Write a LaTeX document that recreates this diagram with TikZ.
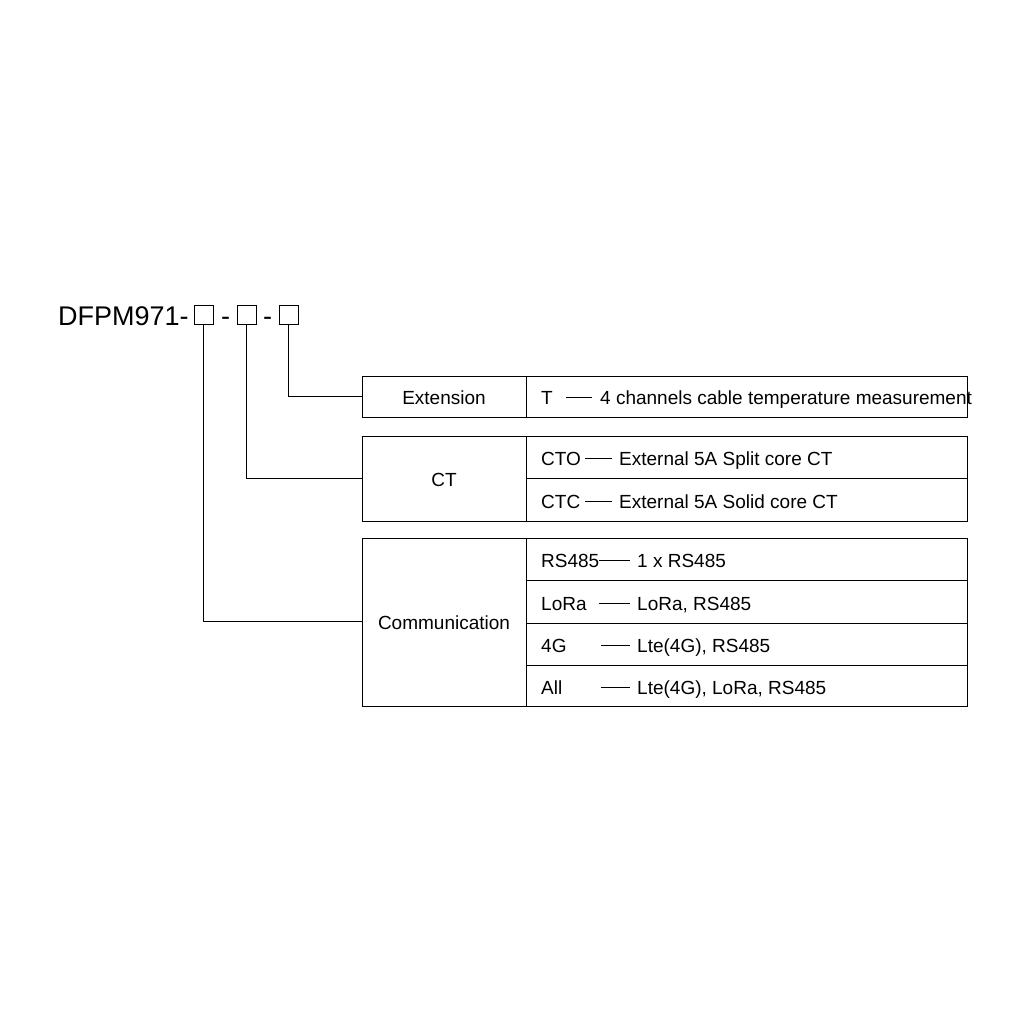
\documentclass[tikz,border=0pt]{standalone}
\usepackage{fontspec}
\setmainfont{Liberation Sans}
\begin{document}
\begin{tikzpicture}[x=1pt,y=-1pt,
  box/.style={draw,line width=1pt},
  ln/.style={line width=1pt},
  txt/.style={font=\fontsize{19}{22}\selectfont,anchor=base west,inner sep=0pt},
  ctxt/.style={font=\fontsize{19}{22}\selectfont,anchor=base,inner sep=0pt}]
\useasboundingbox (0,0) rectangle (1024,1024);
\node[txt,font=\fontsize{27}{30}\selectfont] (title) at (58,325) {DFPM971-};
\node[txt,font=\fontsize{27}{30}\selectfont] (d1) at (221,325) {-};
\node[txt,font=\fontsize{27}{30}\selectfont] (d2) at (263,325) {-};
\draw[ln] (194,305) rectangle (213,324) coordinate (s1);
\draw[ln] (237,305) rectangle (256,324);
\draw[ln] (279,305) rectangle (298,324);
\coordinate (a1) at (203.5,324); \coordinate (a2) at (246.5,324); \coordinate (a3) at (288.5,324);
% boxes
\draw[box] (362,376) rectangle (526,417); \draw[box] (526,376) rectangle (967,417);
\draw[box] (362,436) rectangle (526,521); \draw[box] (526,436) rectangle (967,521);
\draw[ln] (526,478) -- (967,478);
\draw[box] (362,538) rectangle (526,706); \draw[box] (526,538) rectangle (967,706);
\draw[ln] (526,580) -- (967,580); \draw[ln] (526,623) -- (967,623); \draw[ln] (526,665) -- (967,665);
\coordinate (e) at (362,396.5); \coordinate (c) at (362,478.5); \coordinate (m) at (362,621);
\draw[ln] (a3) |- (e);
\draw[ln] (a2) |- (c);
\draw[ln] (a1) |- (m);
\node[ctxt] (ext) at (444,404) {Extension};
\node[ctxt] (ct) at (444,486) {CT};
\node[ctxt] (com) at (444,629) {Communication};
% rows
\node[txt] (r1) at (541,404) {T}; \draw[ln] (566,397) -- (592,397);
\node[txt] (r1b) at (600,404) {4 channels cable temperature measurement};
\node[txt] (r2) at (541,465) {CTO}; \draw[ln] (585,458) -- (612,458);
\node[txt] (r2b) at (619,465) {External 5A Split core CT};
\node[txt] (r3) at (541,508) {CTC}; \draw[ln] (585,501) -- (612,501);
\node[txt] (r3b) at (619,508) {External 5A Solid core CT};
\node[txt] (r4) at (541,567) {RS485}; \draw[ln] (599,560) -- (630,560);
\node[txt] (r4b) at (637,567) {1 x RS485};
\node[txt] (r5) at (541,610) {LoRa}; \draw[ln] (599,603) -- (630,603);
\node[txt] (r5b) at (637,610) {LoRa, RS485};
\node[txt] (r6) at (541,652) {4G}; \draw[ln] (601,645) -- (630,645);
\node[txt] (r6b) at (637,652) {Lte(4G), RS485};
\node[txt] (r7) at (541,694) {All}; \draw[ln] (601,687) -- (630,687);
\node[txt] (r7b) at (637,694) {Lte(4G), LoRa, RS485};
\end{tikzpicture}
\end{document}
